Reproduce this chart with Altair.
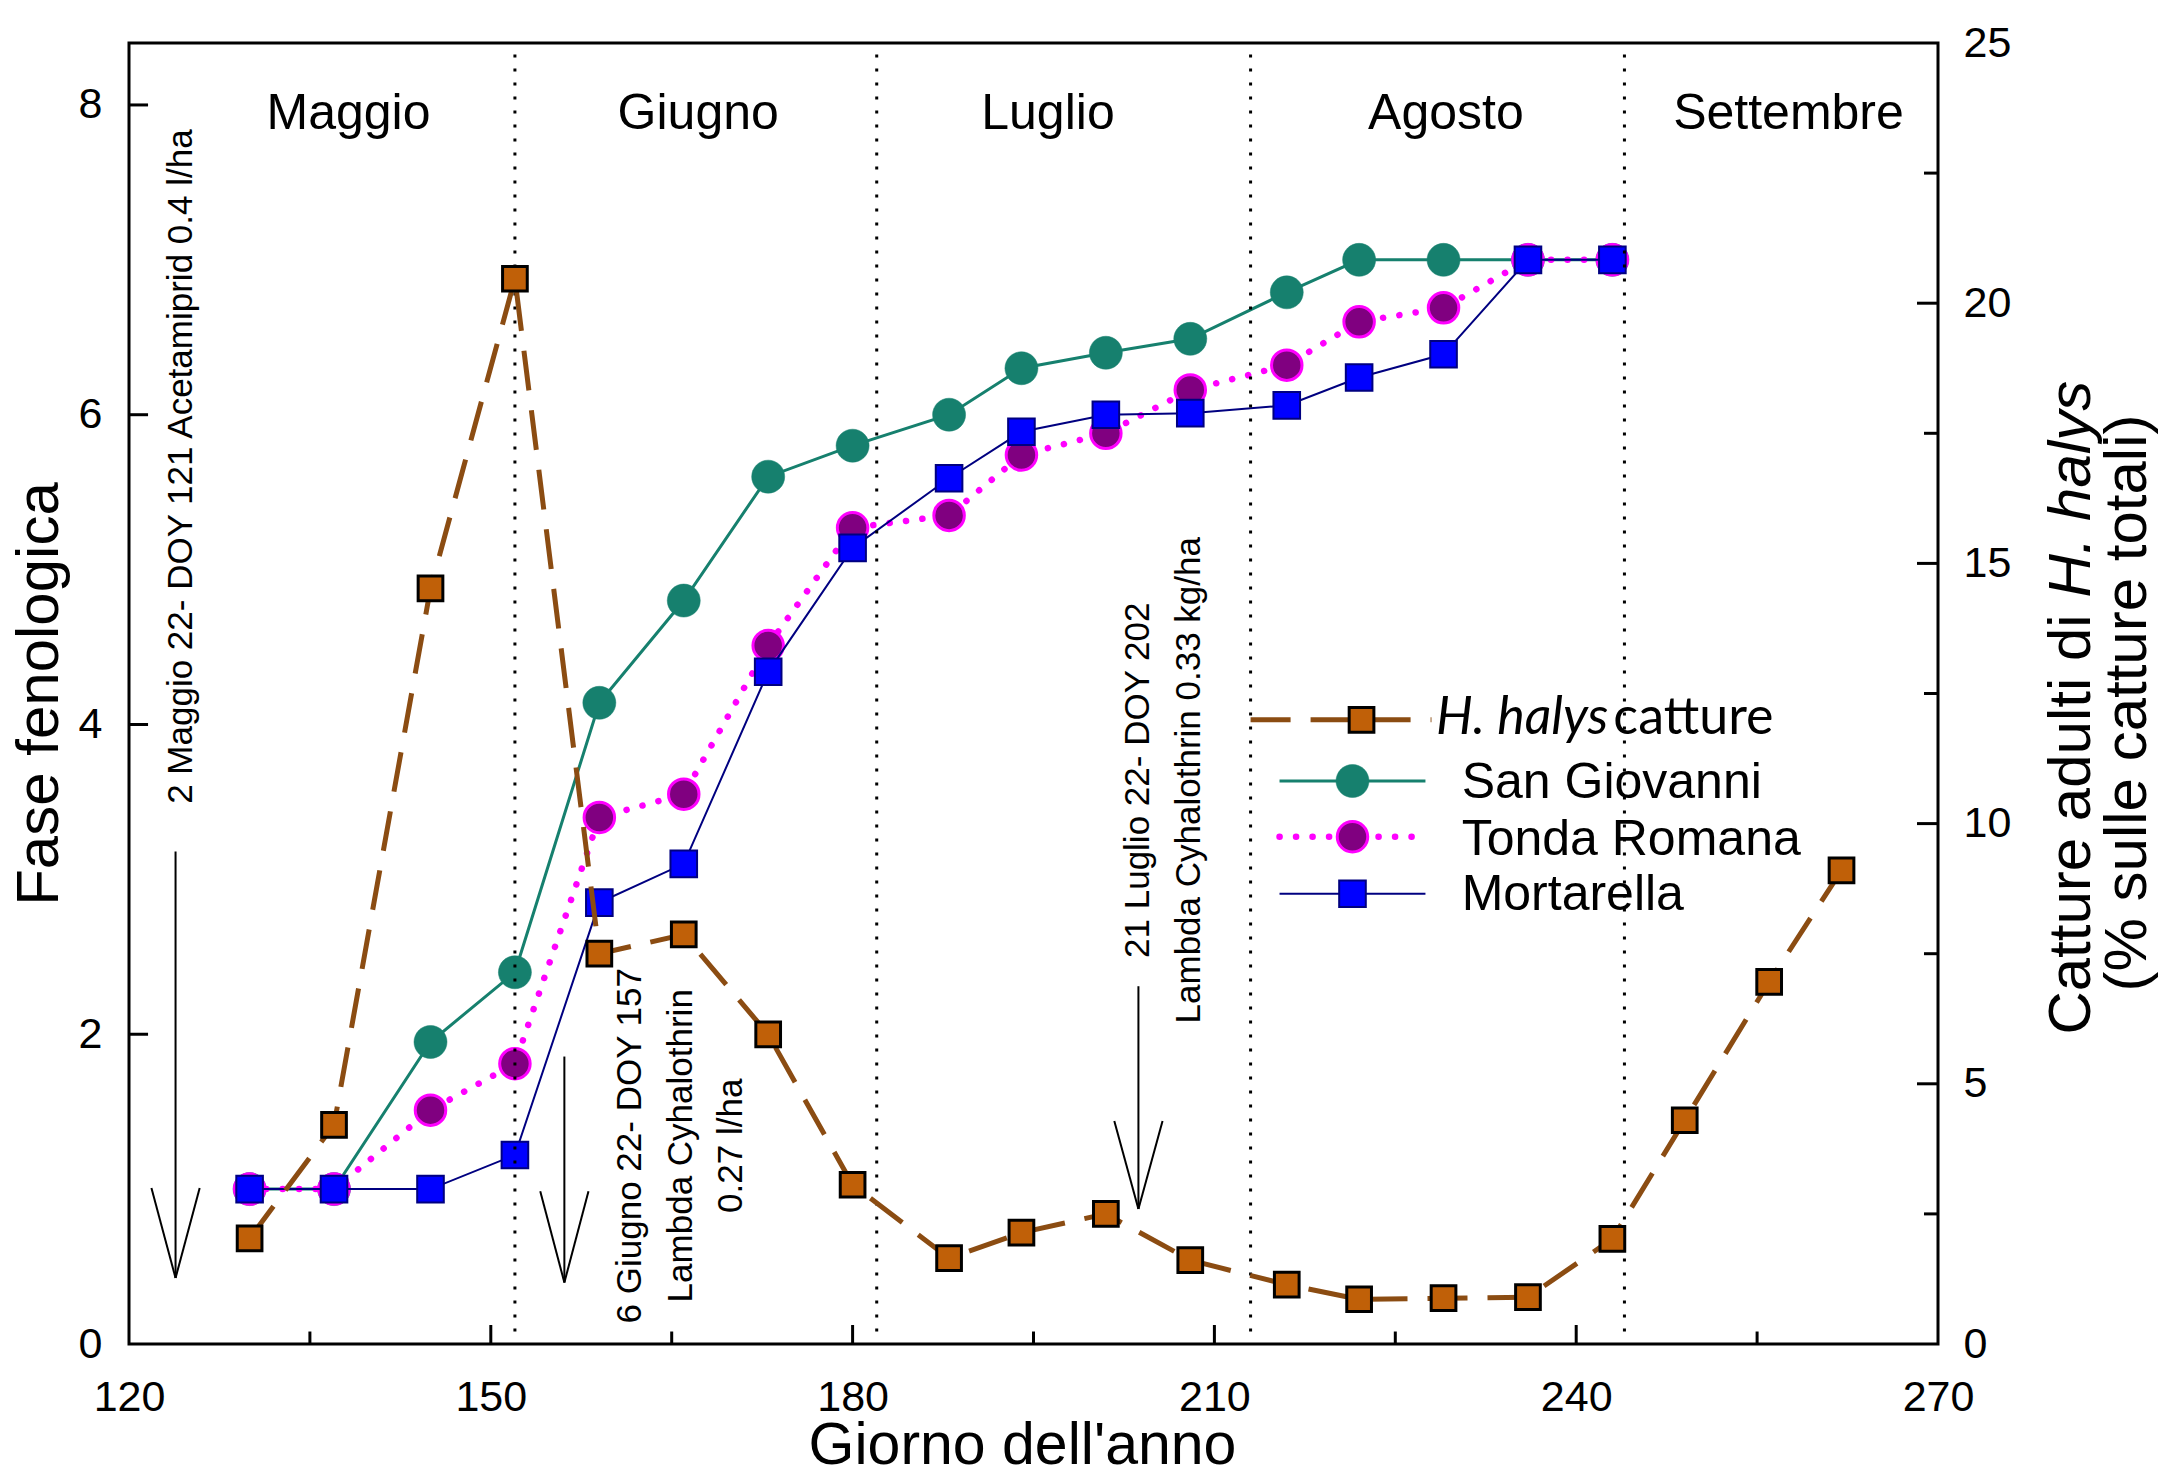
import altair as alt
import pandas as pd

FONT = "Liberation Sans, Arial, Helvetica, sans-serif"
LEG_FONT = "Lato, Carlito, Calibri, sans-serif"

# ---------------- data ----------------
pheno_doy = [130, 137, 145, 152, 159, 166, 173, 180, 188, 194, 201, 208, 216, 222, 229, 236, 243]
san_giovanni = [1.0, 1.0, 1.95, 2.40, 4.14, 4.80, 5.60, 5.80, 6.00, 6.30, 6.40, 6.49, 6.79, 7.0, 7.0, 7.0, 7.0]
tonda_romana = [1.0, 1.0, 1.51, 1.81, 3.40, 3.55, 4.51, 5.27, 5.35, 5.74, 5.88, 6.16, 6.32, 6.60, 6.69, 7.0, 7.0]
mortarella = [1.0, 1.0, 1.0, 1.22, 2.85, 3.10, 4.34, 5.14, 5.59, 5.89, 6.00, 6.01, 6.06, 6.24, 6.39, 7.0, 7.0]

catture_doy = [130, 137, 145, 152, 159, 166, 173, 180, 188, 194, 201, 208, 216, 222, 229, 236, 243, 249, 256, 262]
catture = [2.03, 4.21, 14.52, 20.47, 7.50, 7.87, 5.95, 3.06, 1.65, 2.14, 2.50, 1.61, 1.14, 0.86, 0.88, 0.90, 2.02, 4.30, 6.96, 9.10]

months = ["Maggio", "Giugno", "Luglio", "Agosto", "Settembre"]
month_label_doy = [138.2, 167.2, 196.2, 229.2, 257.6]
month_label_y = [7.846] * 5
month_start_doy = [152, 182, 213, 244]

x_labels = [120, 150, 180, 210, 240, 270]
x_major_ticks = [150, 180, 210, 240]
x_minor_ticks = [135, 165, 195, 225, 255]
left_labels = [0, 2, 4, 6, 8]
left_ticks = [2, 4, 6, 8]
right_labels = [0, 5, 10, 15, 20, 25]
right_major_ticks = [5, 10, 15, 20]
right_minor_ticks = [2.5, 7.5, 12.5, 17.5, 22.5]

X_DOMAIN = [120, 270]
YL_DOMAIN = [0, 8.4]
YR_DOMAIN = [0, 25]

ann_labels = ["2 Maggio 22- DOY 121 Acetamiprid 0.4 l/ha",
              "6 Giugno 22- DOY 157", "Lambda Cyhalothrin", "0.27 l/ha",
              "21 Luglio 22- DOY 202", "Lambda Cyhalothrin 0.33 kg/ha"]
ann_doy = [124.35, 161.55, 165.8, 169.9, 203.7, 207.9]
ann_y = [5.665, 1.28, 1.28, 1.28, 3.64, 3.64]

arrow_doy = [123.86, 156.1, 203.7]
arrow_top = [3.18, 1.856, 2.31]
arrow_tip = [0.426, 0.397, 0.872]
arrow_head_base = [1.007, 0.987, 1.44]
arrow_half_width = [2.0, 2.0, 2.0]

legend_names = ["San Giovanni", "Tonda Romana", "Mortarella"]
legend_line_x0 = [213.0, 215.4, 215.4, 215.4]
legend_line_x1 = [228.0, 227.5, 227.5, 227.5]
legend_marker_x = [222.2, 221.45, 221.45, 221.45]
legend_y = [4.03, 3.635, 3.275, 2.907]
legend_text_x = [230.5, 230.5, 230.5]
legend_text_y = [3.526, 3.16, 2.80]
hh_italic_x, hh_regular_x, hh_text_y = 228.37, 243.08, 3.937

TEAL = "#16806e"
MAGENTA = "#ff00ff"
PURPLE = "#800080"
BLUE = "#0000ff"
NAVY = "#000080"
BROWN_LINE = "#8b4c12"
BROWN_FILL = "#c06008"

# ---------------- scales / axes ----------------
x_axis = alt.Axis(values=x_labels, ticks=False, tickSize=0, domain=False, grid=False,
                  labelFont=FONT, labelFontSize=43, labelPadding=32, labelColor="black",
                  labelFlush=False, labelOverlap=False,
                  title="Giorno dell'anno", titleFont=FONT, titleFontSize=59,
                  titleFontWeight="normal", titleColor="black", titleX=893, titleY=119,
                  titleBaseline="alphabetic", titleAlign="center")
left_axis = alt.Axis(values=left_labels, ticks=False, tickSize=0, domain=False, grid=False,
                     labelFont=FONT, labelFontSize=43, labelPadding=27, labelColor="black",
                     labelFlush=False, labelOverlap=False,
                     title="Fase fenologica", titleFont=FONT, titleFontSize=60,
                     titleFontWeight="normal", titleColor="black", titleAngle=270,
                     titleX=-72, titleY=650.5, titleBaseline="alphabetic", titleAlign="center")
right_axis = alt.Axis(orient="right", values=right_labels, ticks=False, tickSize=0, domain=False,
                      grid=False, labelFont=FONT, labelFontSize=43, labelPadding=25,
                      labelColor="black", labelFlush=False, labelOverlap=False, title=None)


def xq(field="x"):
    return alt.X(f"{field}:Q", scale=alt.Scale(domain=X_DOMAIN, nice=False, zero=False), axis=x_axis)


def yl(field="y"):
    return alt.Y(f"{field}:Q", scale=alt.Scale(domain=YL_DOMAIN, nice=False, zero=False), axis=left_axis)


def yr(field="y"):
    return alt.Y(f"{field}:Q", scale=alt.Scale(domain=YR_DOMAIN, nice=False, zero=False), axis=right_axis)


# ---------------- left (phenology) group ----------------
teal_df = pd.DataFrame({"x": pheno_doy, "y": san_giovanni})
tonda_df = pd.DataFrame({"x": pheno_doy, "y": tonda_romana})
mort_df = pd.DataFrame({"x": pheno_doy, "y": mortarella})

teal_line = alt.Chart(teal_df).mark_line(color=TEAL, strokeWidth=3).encode(x=xq(), y=yl())
teal_pts = alt.Chart(teal_df).mark_point(shape="circle", filled=True, fill=TEAL, stroke=TEAL,
                                         strokeWidth=0.5, size=1089, opacity=1).encode(x=xq(), y=yl())
tonda_line = alt.Chart(tonda_df).mark_line(color=MAGENTA, strokeWidth=6.5, strokeDash=[0.1, 16.4],
                                           strokeCap="round").encode(x=xq(), y=yl())
tonda_pts = alt.Chart(tonda_df).mark_point(shape="circle", filled=True, fill=PURPLE, stroke=MAGENTA,
                                           strokeWidth=3, size=930, opacity=1).encode(x=xq(), y=yl())
mort_line = alt.Chart(mort_df).mark_line(color=NAVY, strokeWidth=2).encode(x=xq(), y=yl())
mort_pts = alt.Chart(mort_df).mark_point(shape="square", filled=True, fill=BLUE, stroke=NAVY,
                                         strokeWidth=2, size=708, opacity=1).encode(x=xq(), y=yl())

month_df = pd.DataFrame({"x": month_start_doy, "y0": [0.08] * 4, "y1": [8.4] * 4})
month_rules = alt.Chart(month_df).mark_rule(color="black", strokeWidth=3, strokeDash=[3, 11]).encode(
    x=xq(), y=yl("y0"), y2=alt.Y2("y1"))

month_txt_df = pd.DataFrame({"x": month_label_doy, "y": month_label_y, "t": months})
month_text = alt.Chart(month_txt_df).mark_text(font=FONT, fontSize=50, color="black", align="center",
                                               baseline="alphabetic").encode(x=xq(), y=yl(), text="t:N")

xt_df = pd.DataFrame({"x": x_major_ticks + x_minor_ticks,
                      "y0": [0.0] * 9,
                      "y1": [0.1225] * 4 + [0.0806] * 5})
x_ticks = alt.Chart(xt_df).mark_rule(color="black", strokeWidth=3).encode(
    x=xq(), y=yl("y0"), y2=alt.Y2("y1"))
lt_df = pd.DataFrame({"x0": [120.0] * 4, "x1": [121.58] * 4, "y": left_ticks})
l_ticks = alt.Chart(lt_df).mark_rule(color="black", strokeWidth=3).encode(
    x=xq("x0"), x2=alt.X2("x1"), y=yl())

ann_df = pd.DataFrame({"x": ann_doy, "y": ann_y, "t": ann_labels})
ann_text = alt.Chart(ann_df).mark_text(font=FONT, fontSize=35, color="black", angle=270,
                                       align="center", baseline="middle").encode(x=xq(), y=yl(), text="t:N")

arrow_rows = []
for d, top, tip, base, hw in zip(arrow_doy, arrow_top, arrow_tip, arrow_head_base, arrow_half_width):
    arrow_rows.append({"x": d, "y": top, "x2": d, "y2": tip})
    arrow_rows.append({"x": d - hw, "y": base, "x2": d, "y2": tip})
    arrow_rows.append({"x": d + hw, "y": base, "x2": d, "y2": tip})
arrow_df = pd.DataFrame(arrow_rows)
arrows = alt.Chart(arrow_df).mark_rule(color="black", strokeWidth=2).encode(
    x=xq(), y=yl(), x2=alt.X2("x2"), y2=alt.Y2("y2"))


# legend (drawn in data coordinates)
def leg_line_df(i):
    return pd.DataFrame({"x": [legend_line_x0[i], legend_line_x1[i]], "y": [legend_y[i]] * 2})


def leg_pt_df(i):
    return pd.DataFrame({"x": [legend_marker_x[i]], "y": [legend_y[i]]})


leg_brown_line = alt.Chart(leg_line_df(0)).mark_line(color=BROWN_LINE, strokeWidth=5, strokeDash=[40, 20]).encode(x=xq(), y=yl())
leg_brown_pt = alt.Chart(leg_pt_df(0)).mark_point(shape="square", filled=True, fill=BROWN_FILL, stroke="black",
                                                  strokeWidth=3, size=610, opacity=1).encode(x=xq(), y=yl())
leg_teal_line = alt.Chart(leg_line_df(1)).mark_line(color=TEAL, strokeWidth=3).encode(x=xq(), y=yl())
leg_teal_pt = alt.Chart(leg_pt_df(1)).mark_point(shape="circle", filled=True, fill=TEAL, stroke=TEAL,
                                                 strokeWidth=0.5, size=1089, opacity=1).encode(x=xq(), y=yl())
leg_tonda_line = alt.Chart(leg_line_df(2)).mark_line(color=MAGENTA, strokeWidth=6.5, strokeDash=[0.1, 16.4],
                                                     strokeCap="round").encode(x=xq(), y=yl())
leg_tonda_pt = alt.Chart(leg_pt_df(2)).mark_point(shape="circle", filled=True, fill=PURPLE, stroke=MAGENTA,
                                                  strokeWidth=3, size=930, opacity=1).encode(x=xq(), y=yl())
leg_mort_line = alt.Chart(leg_line_df(3)).mark_line(color=NAVY, strokeWidth=2).encode(x=xq(), y=yl())
leg_mort_pt = alt.Chart(leg_pt_df(3)).mark_point(shape="square", filled=True, fill=BLUE, stroke=NAVY,
                                                 strokeWidth=2, size=708, opacity=1).encode(x=xq(), y=yl())

leg_txt_df = pd.DataFrame({"x": legend_text_x, "y": legend_text_y, "t": legend_names})
leg_text = alt.Chart(leg_txt_df).mark_text(font=FONT, fontSize=50, color="black", align="left",
                                           baseline="alphabetic").encode(x=xq(), y=yl(), text="t:N")
hh_it = alt.Chart(pd.DataFrame({"x": [hh_italic_x], "y": [hh_text_y], "t": ["H. halys"]})).mark_text(
    font=LEG_FONT, fontSize=52, fontStyle="italic", color="black", align="left", baseline="alphabetic"
).encode(x=xq(), y=yl(), text="t:N")
hh_reg = alt.Chart(pd.DataFrame({"x": [hh_regular_x], "y": [hh_text_y], "t": ["catture"]})).mark_text(
    font=LEG_FONT, fontSize=52, color="black", align="left", baseline="alphabetic"
).encode(x=xq(), y=yl(), text="t:N")

# right-axis title (two lines, part in italic)
rt1 = alt.Chart(pd.DataFrame({"t": ["Catture adulti di"]})).mark_text(
    font=FONT, fontSize=60, color="black", angle=270, align="left", baseline="alphabetic"
).encode(x=alt.value(1961), y=alt.value(991.6), text="t:N")
rt2 = alt.Chart(pd.DataFrame({"t": ["H. halys"]})).mark_text(
    font=FONT, fontSize=60, fontStyle="italic", color="black", angle=270, align="left", baseline="alphabetic"
).encode(x=alt.value(1961), y=alt.value(554.6), text="t:N")
rt3 = alt.Chart(pd.DataFrame({"t": ["(% sulle catture totali)"]})).mark_text(
    font=FONT, fontSize=60, color="black", angle=270, align="center", baseline="alphabetic"
).encode(x=alt.value(2017), y=alt.value(660), text="t:N")

left_group = alt.layer(
    teal_line, teal_pts, tonda_line, tonda_pts, mort_line, mort_pts,
    month_rules, month_text, x_ticks, l_ticks, ann_text, arrows,
    leg_brown_line, leg_brown_pt, leg_teal_line, leg_teal_pt, leg_tonda_line, leg_tonda_pt,
    leg_mort_line, leg_mort_pt, leg_text, hh_it, hh_reg, rt1, rt2, rt3,
)

# ---------------- right (captures) group ----------------
brown_df = pd.DataFrame({"x": catture_doy, "y": catture})
brown_line = alt.Chart(brown_df).mark_line(color=BROWN_LINE, strokeWidth=5, strokeDash=[40, 20]).encode(x=xq(), y=yr())
brown_pts = alt.Chart(brown_df).mark_point(shape="square", filled=True, fill=BROWN_FILL, stroke="black",
                                           strokeWidth=3, size=610, opacity=1).encode(x=xq(), y=yr())
rt_df = pd.DataFrame({"x0": [270 - 1.74] * 4 + [270 - 1.16] * 5, "x1": [270.0] * 9,
                      "y": right_major_ticks + right_minor_ticks})
r_ticks = alt.Chart(rt_df).mark_rule(color="black", strokeWidth=3).encode(
    x=xq("x0"), x2=alt.X2("x1"), y=yr())

right_group = alt.layer(r_ticks, brown_line, brown_pts)

chart = alt.layer(left_group, right_group).resolve_scale(y="independent").properties(
    width=1809, height=1301,
    autosize=alt.AutoSizeParams(type="none"),
    padding={"left": 121, "top": 35, "right": 225, "bottom": 132},
    background="white",
).configure_view(stroke="black", strokeWidth=3)

chart.save("out.html", embed_options={"renderer": "svg", "actions": False})
